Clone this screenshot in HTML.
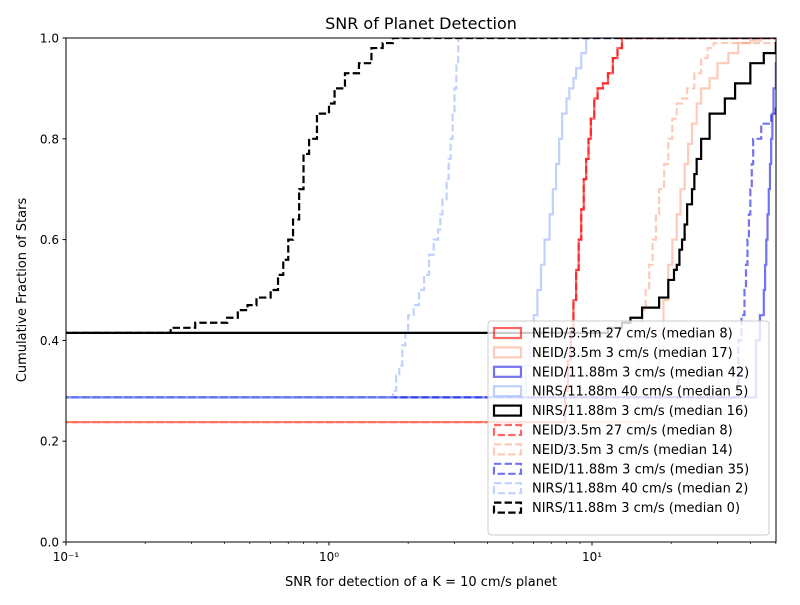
<!DOCTYPE html>
<html><head><meta charset="utf-8"><style>
body{margin:0;background:#fff;font-family:"Liberation Sans","DejaVu Sans",sans-serif}
svg text{font-family:"DejaVu Sans","Liberation Sans",sans-serif}
</style></head><body>
<svg id="c" width="800" height="600" viewBox="0 0 800 600">
<defs><clipPath id="pc"><rect x="66" y="38" width="710" height="504"/></clipPath></defs>
<rect width="800" height="600" fill="#fff"/>
<text x="421" y="29" font-size="16" text-anchor="middle">SNR of Planet Detection</text>
<g id="plot" clip-path="url(#pc)"></g>
<rect x="66" y="38" width="710" height="504" fill="none" stroke="#000" stroke-width="1"/>
<g id="axes"></g>
<text x="421" y="586" font-size="13" text-anchor="middle">SNR for detection of a K = 10 cm/s planet</text>
<text transform="translate(26,290) rotate(-90)" font-size="13" text-anchor="middle">Cumulative Fraction of Stars</text>
<g id="legend"></g>
</svg>
<script>
const seriesNames=["NEID/3.5m 27 cm/s (median 8)","NEID/3.5m 3 cm/s (median 17)","NEID/11.88m 3 cm/s (median 42)","NIRS/11.88m 40 cm/s (median 5)","NIRS/11.88m 3 cm/s (median 16)","NEID/3.5m 27 cm/s (median 8)","NEID/3.5m 3 cm/s (median 14)","NEID/11.88m 3 cm/s (median 35)","NIRS/11.88m 40 cm/s (median 2)","NIRS/11.88m 3 cm/s (median 0)"];
const seriesBase=[0.238,0.238,0.287,0.287,0.415,0.238,0.238,0.287,0.287,0.415];
const snr0=[7.9,8.1,8.3,8.5,8.7,8.9,9.1,9.3,9.5,9.7,9.9,10.2,10.5,11.0,11.5,12.0,12.5,13];
const frac0=[0.3,0.36,0.42,0.48,0.54,0.6,0.66,0.72,0.76,0.8,0.84,0.88,0.9,0.91,0.93,0.96,0.98,1.0];
const snr1=[18,18.7,19.5,20.2,21,21.7,22.5,23.2,24,25,26,28,30,33,36,40,44];
const frac1=[0.42,0.48,0.55,0.6,0.65,0.7,0.75,0.79,0.83,0.87,0.9,0.92,0.95,0.97,0.99,0.995,1.0];
const snr2=[42,43.5,45,45.5,46,46.5,47,47.5,48,48.5,49,50];
const frac2=[0.4,0.45,0.5,0.55,0.6,0.65,0.7,0.75,0.8,0.85,0.9,0.95];
const snr3=[5.6,5.8,6.0,6.2,6.4,6.6,6.9,7.1,7.3,7.5,7.7,8.0,8.2,8.5,8.7,9.1,9.5];
const frac3=[0.35,0.4,0.45,0.5,0.55,0.6,0.65,0.7,0.75,0.8,0.85,0.88,0.9,0.92,0.94,0.97,1.0];
const snr4=[11.5,13,14,15.5,18,19.5,20.5,21,21.5,22,22.5,23,24,24.5,25,26,28,32,35,40,45,50];
const frac4=[0.425,0.435,0.445,0.465,0.485,0.52,0.54,0.55,0.58,0.6,0.63,0.67,0.7,0.73,0.76,0.8,0.85,0.88,0.91,0.95,0.97,0.99];
const snr5=[7.9,8.1,8.3,8.5,8.7,8.9,9.1,9.3,9.5,9.7,9.9,10.2,10.5,11.0,11.5,12.0,12.5,13];
const frac5=[0.3,0.36,0.42,0.48,0.54,0.6,0.66,0.72,0.76,0.8,0.84,0.88,0.9,0.91,0.93,0.96,0.98,1.0];
const snr6=[15,15.5,16,16.5,17,17.5,18,18.8,19.5,20.2,21,22,23,24.5,26,27.5,29];
const frac6=[0.42,0.46,0.5,0.55,0.6,0.65,0.7,0.75,0.8,0.84,0.87,0.88,0.9,0.93,0.96,0.98,0.99];
const snr7=[36,37,38,38.5,39,39.5,40,40.5,41,44,48,50];
const frac7=[0.4,0.45,0.5,0.55,0.6,0.65,0.7,0.75,0.8,0.83,0.85,0.86];
const snr8=[1.75,1.8,1.85,1.9,1.95,2.0,2.1,2.2,2.3,2.4,2.5,2.6,2.65,2.7,2.8,2.85,2.9,2.95,3.0,3.05,3.1];
const frac8=[0.3,0.33,0.35,0.39,0.42,0.45,0.47,0.5,0.53,0.57,0.6,0.62,0.65,0.68,0.72,0.76,0.8,0.85,0.9,0.95,1.0];
const snr9=[0.25,0.31,0.41,0.45,0.49,0.53,0.6,0.64,0.67,0.7,0.73,0.77,0.8,0.84,0.9,1.0,1.05,1.15,1.3,1.45,1.6,1.75];
const frac9=[0.425,0.435,0.445,0.46,0.47,0.485,0.5,0.53,0.56,0.6,0.64,0.7,0.77,0.8,0.85,0.87,0.9,0.93,0.95,0.98,0.99,1.0];
const xTicks=[0.1,1,10];
const xTickLabels=["10⁻¹","10⁰","10¹"];
const yTicks=[0,0.2,0.4,0.6,0.8,1.0];
const yTickLabels=["0.0","0.2","0.4","0.6","0.8","1.0"];

const NS="http://www.w3.org/2000/svg";
const X=v=>66+263*(Math.log10(v)+1);
const Y=f=>542-504*f;
const colors=["rgba(255,0,0,0.6)","rgba(252,160,130,0.55)","rgba(0,0,230,0.55)","rgba(130,165,250,0.5)","#000"];
const snrs=[snr0,snr1,snr2,snr3,snr4,snr5,snr6,snr7,snr8,snr9];
const fracs=[frac0,frac1,frac2,frac3,frac4,frac5,frac6,frac7,frac8,frac9];
const plot=document.getElementById('plot');
const order=[0,1,2,3,5,6,7,8,4,9];
order.forEach(i=>{
  const s=snrs[i],f=fracs[i];
  let d=`M${X(0.05)},${Y(seriesBase[i])}`;
  for(let k=0;k<s.length;k++){d+=` H${X(s[k])} V${Y(f[k])}`;}
  d+=` H${X(100)}`;
  const p=document.createElementNS(NS,'path');
  p.setAttribute('d',d);p.setAttribute('fill','none');
  p.setAttribute('stroke',colors[i%5]);p.setAttribute('stroke-width','2.2');
  if(i>=5)p.setAttribute('stroke-dasharray','7.4,3.2');
  
  
  plot.appendChild(p);
});
const ax=document.getElementById('axes');
function el(tag,attrs,txt){const e=document.createElementNS(NS,tag);for(const k in attrs)e.setAttribute(k,attrs[k]);if(txt!==undefined)e.textContent=txt;ax.appendChild(e);return e;}
xTicks.forEach((v,i)=>{
  const l=el('line',{x1:X(v),x2:X(v),y1:542,y2:545.5,stroke:'#000'});
  
  
  const t=el('text',{x:X(v),y:561,'font-size':12,'text-anchor':'middle'},xTickLabels[i]);
  
  
});
for(let e=-1;e<2;e++)for(let m=2;m<10;m++){const v=m*Math.pow(10,e);if(X(v)>776)continue;
  const l=el('line',{x1:X(v),x2:X(v),y1:542,y2:544,stroke:'#000','stroke-width':0.7});
  
  }
yTicks.forEach((v,i)=>{
  const l=el('line',{x1:62.5,x2:66,y1:Y(v),y2:Y(v),stroke:'#000'});
  
  
  const t=el('text',{x:59,y:Y(v)+4.5,'font-size':12,'text-anchor':'end'},yTickLabels[i]);
  
  
});
const lg=document.getElementById('legend');
const box=document.createElementNS(NS,'rect');
box.setAttribute('x',488);box.setAttribute('y',321);box.setAttribute('width',281);box.setAttribute('height',214);box.setAttribute('rx',3);
box.setAttribute('fill','rgba(255,255,255,0.8)');box.setAttribute('stroke','#ccc');


lg.appendChild(box);
seriesNames.forEach((n,i)=>{
  const y=333+i*19.4;
  const r=document.createElementNS(NS,'rect');
  r.setAttribute('x',494);r.setAttribute('y',y-5);r.setAttribute('width',27);r.setAttribute('height',10);
  r.setAttribute('fill','none');r.setAttribute('stroke',colors[i%5]);r.setAttribute('stroke-width',2.2);
  if(i>=5)r.setAttribute('stroke-dasharray','7.4,3.2');
  
  
  lg.appendChild(r);
  const t=document.createElementNS(NS,'text');
  t.setAttribute('x',532);t.setAttribute('y',y+4.5);t.setAttribute('font-size',13);t.textContent=n;
  
  
  lg.appendChild(t);
});
</script>
</body></html>
